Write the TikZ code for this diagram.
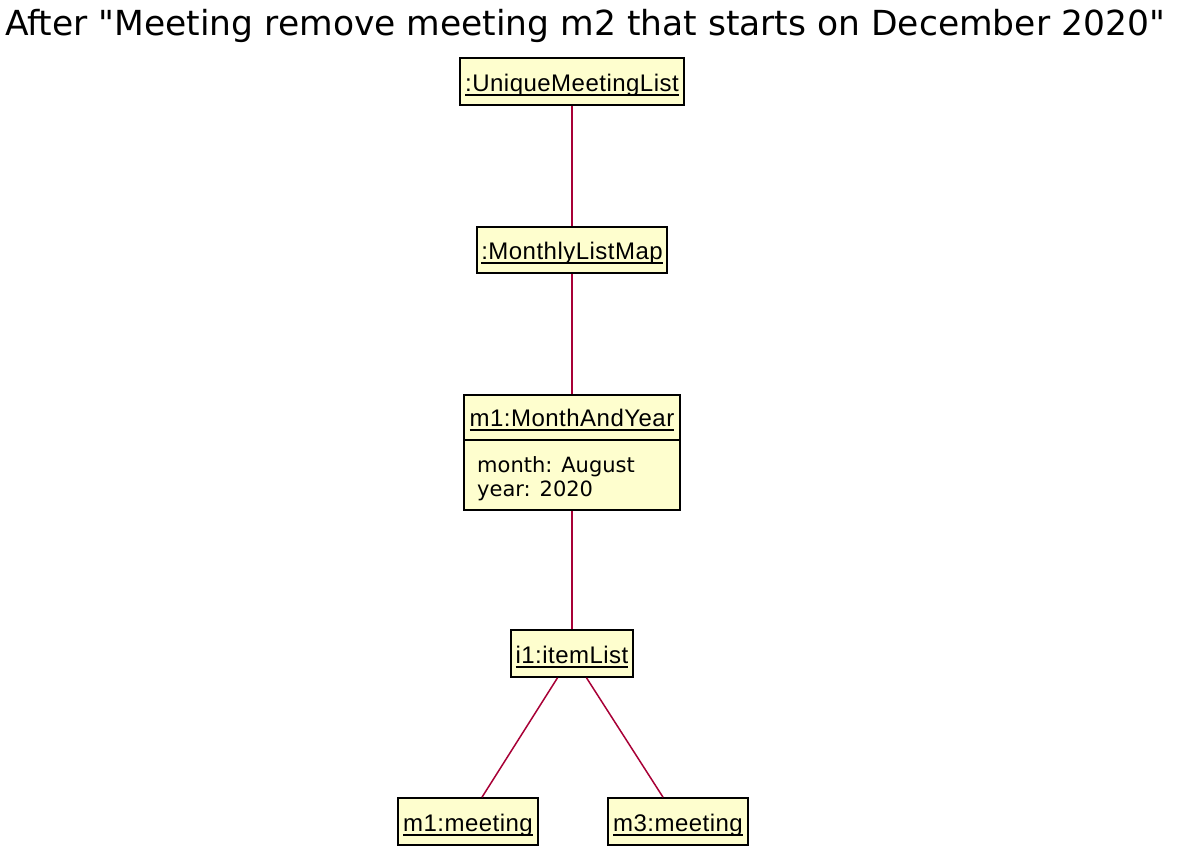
\documentclass[tikz,border=0pt]{standalone}
\usepackage{fontspec}
\setmainfont[Ligatures=TeXOff]{DejaVu Sans}
\newfontfamily\lsans[LetterSpace=2]{Liberation Sans}
\newcommand\myul[1]{\setbox0\hbox{#1}\rlap{\rule[-4.8pt]{\wd0}{1.6pt}}\box0}
\definecolor{objfill}{HTML}{FEFECE}
\definecolor{linkc}{HTML}{A80036}
\tikzset{
  objbox/.style={draw=black, line width=1.6pt, fill=objfill, inner sep=0pt},
  obj/.style={objbox, font=\lsans\fontsize{24}{28}\selectfont, text height=20.5pt, text depth=1.5pt, minimum height=47pt},
  hdr/.style={font=\lsans\fontsize{24}{28}\selectfont, inner sep=0pt, anchor=base},
  attr/.style={font=\fontsize{21}{24}\selectfont, inner sep=0pt, anchor=base west},
  link/.style={draw=linkc, line width=1.5pt},
  ttl/.style={font=\fontsize{34.5}{40}\selectfont, inner sep=0pt, anchor=base}
}
\begin{document}
\begin{tikzpicture}[x=1pt,y=-1pt]
\useasboundingbox (0,0) rectangle (1188,865);
\node[ttl] (title) at (585,35) {After "Meeting remove meeting m2 that starts on December 2020"};
\node[obj, minimum width=224pt] (uml) at (572,81.5) {\myul{:UniqueMeetingList}};
\node[obj, minimum width=190pt, minimum height=46pt, text height=20pt, text depth=1.5pt] (mlm) at (572,250) {\myul{:MonthlyListMap}};
\node[objbox, minimum width=216pt, minimum height=115pt] (my) at (572,452.5) {};
\draw[line width=1.6pt] ([yshift=-46pt]my.north west) -- ([yshift=-46pt]my.north east);
\node[hdr] (myh) at (572,426) {\myul{m1:MonthAndYear}};
\node[attr] (a1) at (477,472) {month: August};
\node[attr] (a2) at (477,496) {year: 2020};
\node[obj, minimum width=122pt] (il) at (572,653.5) {\myul{i1:itemList}};
\node[obj, minimum width=140pt] (m1) at (468,821.5) {\myul{m1:meeting}};
\node[obj, minimum width=140pt] (m3) at (678,821.5) {\myul{m3:meeting}};
\draw[link] (uml.south) -- (mlm.north);
\draw[link] (mlm.south) -- (my.north);
\draw[link] (my.south) -- (il.north);
\draw[link] ([xshift=-14.5pt]il.south) -- ([xshift=14pt]m1.north);
\draw[link] ([xshift=14.5pt]il.south) -- ([xshift=-15pt]m3.north);
\end{tikzpicture}
\end{document}
